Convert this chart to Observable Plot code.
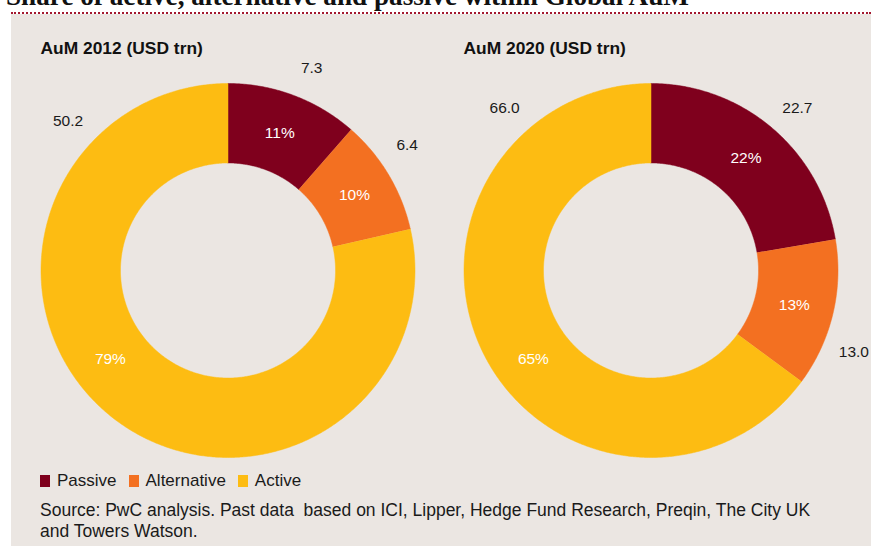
<!DOCTYPE html>
<html><head><meta charset="utf-8">
<script src="https://cdn.jsdelivr.net/npm/d3@7"></script>
<script src="https://cdn.jsdelivr.net/npm/@observablehq/plot@0.6"></script>
<style>
html,body{margin:0;padding:0;background:#fff;}
body{width:871px;height:546px;position:relative;overflow:hidden;font-family:"Liberation Sans",Arial,Helvetica,sans-serif;color:#1a1a1a;}
#title{position:absolute;left:6px;top:-17px;font-family:"Liberation Serif","Times New Roman",serif;font-weight:bold;font-size:27.2px;line-height:27px;white-space:nowrap;color:#111;}
#rule{position:absolute;left:11px;top:12px;right:0;border-top:2px dotted #a3182f;}
#panel{position:absolute;left:11px;top:14px;right:0;bottom:0;background:#ebe6e2;}
.head{position:absolute;top:40px;font-weight:bold;font-size:17.4px;line-height:17px;white-space:nowrap;color:#111;}
.chart{position:absolute;top:30px;}
#legend{position:absolute;left:40px;top:471px;font-size:17px;line-height:20px;display:flex;align-items:center;}
.item{display:flex;align-items:center;margin-right:12px;}
.sw{display:inline-block;width:10px;height:12px;margin-right:7px;}
#source{position:absolute;left:40px;top:500px;font-size:17.5px;line-height:21px;white-space:pre;}
</style>
</head><body>
<div id="title"></div>
<div id="rule"></div>
<div id="panel"></div>
<div id="charts"></div>
<div id="legend"></div>
<div id="source"></div>
<script>
// ---- data ----
const titleText = "Share of active, alternative and passive within Global AuM";
const categories = ["Passive", "Alternative", "Active"];
const years = ["2012", "2020"];
const aum2012 = [7.3, 6.4, 50.2];
const aum2020 = [22.7, 13.0, 66.0];
const headings = ["AuM 2012 (USD trn)", "AuM 2020 (USD trn)"];
const sourceLines = ["Source: PwC analysis. Past data  based on ICI, Lipper, Hedge Fund Research, Preqin, The City UK", "and Towers Watson."];

// ---- styles / layout ----
const palette = ["#7f001d", "#f37021", "#fdbc12"];
const W = 423, H = 435, R = 187, CY = 240, INNER = 0.575;
const chartLeft = [16, 439];
const valueR = 1.17, pctR = (1 + INNER) / 2;
const valueAngleOverride = {
  "2012|Passive": 22.5, "2012|Alternative": 55, "2012|Active": 313,
  "2020|Passive": 42, "2020|Alternative": 112, "2020|Active": 318
};
const pctAngleOverride = {"Active": 233};

document.getElementById("title").textContent = titleText;

function donut(year, values) {
  const arcs = d3.pie().sort(null)(values);
  const total = d3.sum(values);
  const rows = [];
  arcs.forEach((a, i) => {
    const cat = categories[i];
    const span = a.endAngle - a.startAngle;
    const steps = Math.max(2, Math.ceil(span / (Math.PI / 360)));
    for (let k = 0; k <= steps; k++) {
      const t = a.startAngle + span * k / steps;
      rows.push({category: cat, x: Math.sin(t), y: Math.cos(t)});
    }
    for (let k = steps; k >= 0; k--) {
      const t = a.startAngle + span * k / steps;
      rows.push({category: cat, x: INNER * Math.sin(t), y: INNER * Math.cos(t)});
    }
  });
  const labels = arcs.map((a, i) => {
    const cat = categories[i];
    const mid = (a.startAngle + a.endAngle) / 2;
    const ov = valueAngleOverride[year + "|" + cat];
    const va = ov != null ? ov * Math.PI / 180 : mid;
    const po = pctAngleOverride[cat];
    const pa = po != null ? po * Math.PI / 180 : mid;
    return {
      category: cat, value: values[i], pct: Math.round(values[i] / total * 100),
      vx: valueR * Math.sin(va), vy: valueR * Math.cos(va),
      px: pctR * Math.sin(pa), py: pctR * Math.cos(pa)
    };
  });
  return Plot.plot({
    width: W, height: H, margin: 0,
    x: {domain: [-W / 2 / R, W / 2 / R], range: [0, W], axis: null},
    y: {domain: [-(H - CY) / R, CY / R], range: [H, 0], axis: null},
    color: {domain: categories, range: palette},
    style: {background: "transparent", overflow: "visible", fontFamily: "'Liberation Sans', Arial, sans-serif", fontSize: "15px"},
    marks: [
      Plot.line(rows, {x: "x", y: "y", z: "category", fill: "category", stroke: "category", strokeWidth: 0.5}),
      Plot.text(labels, {x: "px", y: "py", text: d => d.pct + "%", fill: "white", fontSize: 15.5}),
      Plot.text(labels, {x: "vx", y: "vy", text: d => d.value.toFixed(1), fill: "#1a1a1a", fontSize: 15.5})
    ]
  });
}

const charts = document.getElementById("charts");
[aum2012, aum2020].forEach((vals, i) => {
  const wrap = document.createElement("div");
  wrap.className = "chart";
  wrap.style.left = chartLeft[i] + "px";
  wrap.appendChild(donut(years[i], vals));
  charts.appendChild(wrap);
  const h = document.createElement("div");
  h.className = "head";
  h.style.left = (chartLeft[i] + W / 2 - R) + "px";
  h.textContent = headings[i];
  charts.appendChild(h);
});

const legend = document.getElementById("legend");
categories.forEach((c, i) => {
  const it = document.createElement("div");
  it.className = "item";
  const sw = document.createElement("span");
  sw.className = "sw";
  sw.style.background = palette[i];
  it.appendChild(sw);
  it.appendChild(document.createTextNode(c));
  legend.appendChild(it);
});
document.getElementById("source").textContent = sourceLines.join("\n");
</script>
</body></html>
